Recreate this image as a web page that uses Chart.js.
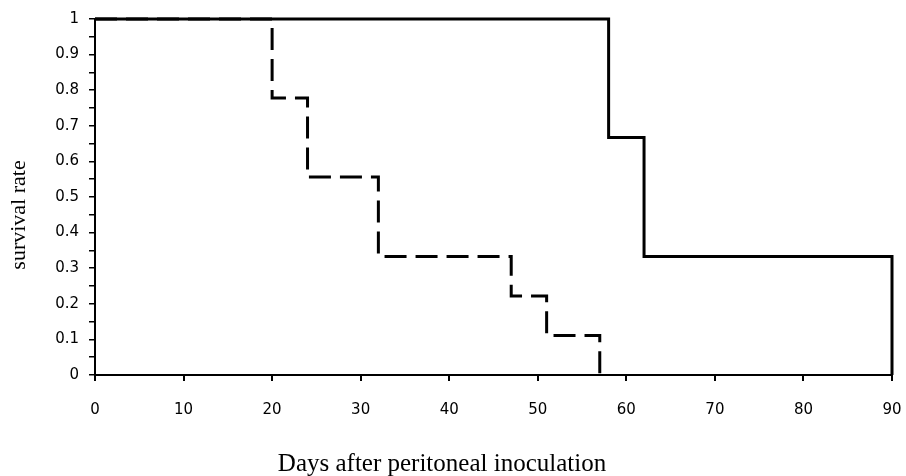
<!DOCTYPE html>
<html>
<head>
<meta charset="utf-8">
<script src="https://cdn.jsdelivr.net/npm/chart.js@4"></script>
<style>
    html, body { margin: 0; padding: 0; background: #fff; }
    #wrap { width: 906px; height: 476px; }
</style>
</head>
<body>
<div id="wrap"><canvas id="chart" width="906" height="476"></canvas></div>
<script>
// survival steps (Kaplan-Meier style)
const solidDays = [0, 58, 62, 90];
const solidRate = [1, 0.667, 0.333, 0];
const dashedDays = [0, 20, 24, 32, 47, 51, 57];
const dashedRate = [1, 0.778, 0.556, 0.333, 0.222, 0.111, 0];
const xTitle = 'Days after peritoneal inoculation';
const yTitle = 'survival rate';

function toPoints(xs, ys) {
    return xs.map((x, i) => ({ x: x, y: ys[i] }));
}

// axis titles sit off-centre in the original, so draw them by hand
const titlesPlugin = {
    id: 'titles',
    afterDraw(chart) {
        const ctx = chart.ctx;
        ctx.save();
        ctx.fillStyle = '#000';
        ctx.font = '25px "Liberation Serif"';
        ctx.textAlign = 'center';
        ctx.textBaseline = 'alphabetic';
        ctx.fillText(xTitle, 442, 471);
        ctx.translate(25, 215);
        ctx.rotate(-Math.PI / 2);
        ctx.font = '22px "Liberation Serif"';
        ctx.fillText(yTitle, 0, 0);
        ctx.restore();
    }
};

const tickFont = { family: 'DejaVu Sans', size: 15 };

new Chart(document.getElementById('chart'), {
    type: 'line',
    data: {
        datasets: [
            {
                label: 'solid',
                data: toPoints(solidDays, solidRate),
                stepped: 'before',
                borderColor: '#000',
                borderWidth: 3,
                pointRadius: 0,
                clip: false,
                order: 0
            },
            {
                label: 'dashed',
                data: toPoints(dashedDays, dashedRate),
                stepped: 'before',
                borderColor: '#000',
                borderWidth: 3,
                borderDash: [22, 9],
                pointRadius: 0,
                clip: false,
                order: 1
            }
        ]
    },
    options: {
        responsive: false,
        animation: false,
        layout: { padding: { top: 19, right: 0, left: 0, bottom: 0 } },
        plugins: { legend: { display: false }, tooltip: { enabled: false } },
        scales: {
            x: {
                type: 'linear',
                min: 0,
                max: 90,
                afterFit(scale) {
                    scale.height = 101;
                    scale.paddingRight = 14;
                },
                border: { display: true, color: '#000', width: 2 },
                grid: { drawOnChartArea: false, color: '#000', tickLength: 6, lineWidth: 2 },
                ticks: {
                    stepSize: 10,
                    color: '#000',
                    font: tickFont,
                    padding: 20,
                    maxRotation: 0
                }
            },
            y: {
                min: 0,
                max: 1,
                afterFit(scale) { scale.width = 95; },
                border: { display: true, color: '#000', width: 2 },
                grid: { drawOnChartArea: false, color: '#000', tickLength: 6, lineWidth: 1.5 },
                ticks: {
                    stepSize: 0.05,
                    color: '#000',
                    font: tickFont,
                    padding: 10,
                    autoSkip: false,
                    callback: (v) => {
                        const n = Math.round(v * 20);
                        return n % 2 === 0 ? String(n / 20) : '';
                    }
                }
            }
        }
    },
    plugins: [titlesPlugin]
});
</script>
</body>
</html>
